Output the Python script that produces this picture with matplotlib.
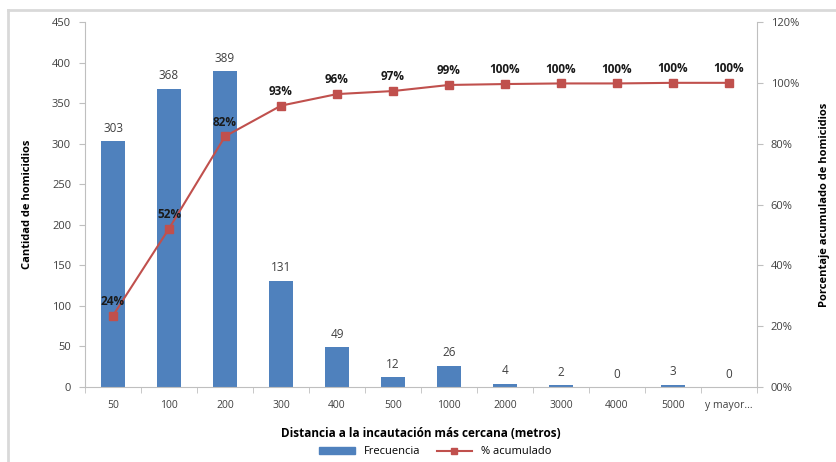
import numpy as np
import matplotlib
matplotlib.use('Agg')
import matplotlib.pyplot as plt
from matplotlib.lines import Line2D
from matplotlib.patches import Patch

categorias = ['50', '100', '200', '300', '400', '500', '1000', '2000',
              '3000', '4000', '5000', 'y mayor...']
frecuencia = [303, 368, 389, 131, 49, 12, 26, 4, 2, 0, 3, 0]
acumulado = [23.5, 52.1, 82.4, 92.5, 96.3, 97.3, 99.3, 99.6, 99.8, 99.8, 100.0, 100.0]
etiquetas_acum = ['24%', '52%', '82%', '93%', '96%', '97%', '99%', '100%',
                  '100%', '100%', '100%', '100%']
ticks_pct = [0, 20, 40, 60, 80, 100, 120]
ticks_pct_lbl = ['00%', '20%', '40%', '60%', '80%', '100%', '120%']

azul = '#4F81BD'
rojo = '#C0504D'
plt.rcParams['font.family'] = ['Open Sans', 'DejaVu Sans']

fig = plt.figure(figsize=(8.37, 4.62), dpi=100)
# marco exterior (solo arriba e izquierda visibles)
fig.lines.append(Line2D([0.010, 0.010], [0.0, 0.978], transform=fig.transFigure,
                        color='#d9d9d9', linewidth=2))
fig.lines.append(Line2D([0.010, 1.0], [0.978, 0.978], transform=fig.transFigure,
                        color='#d9d9d9', linewidth=2))

ax = fig.add_axes([0.1016, 0.1623, 0.8028, 0.7901])
x = np.arange(len(categorias))

ax.bar(x, frecuencia, width=0.42, color=azul, zorder=2)
for xi, v in zip(x, frecuencia):
    ax.text(xi, v + 8, str(v), ha='center', va='bottom', fontsize=8.5, color='#404040')

ax.set_ylim(0, 450)
ax.set_xlim(-0.5, len(categorias) - 0.5)
ax.set_yticks(range(0, 451, 50))
ax.set_xticks(x)
ax.set_xticklabels(categorias)
ax.set_xticks(np.arange(-0.5, len(categorias), 1), minor=True)
ax.tick_params(axis='x', which='major', length=0, pad=9, labelsize=7.5, labelcolor='#404040')
ax.tick_params(axis='x', which='minor', length=4, color='#bfbfbf')
ax.tick_params(axis='y', length=4, color='#bfbfbf', labelsize=8, labelcolor='#404040', pad=6)
for s in ['top', 'right']:
    ax.spines[s].set_visible(False)
for s in ['left', 'bottom']:
    ax.spines[s].set_color('#bfbfbf')
ax.set_ylabel('Cantidad de homicidios', fontsize=8, fontweight='bold', labelpad=14)
ax.set_xlabel('Distancia a la incautación más cercana (metros)', fontsize=8.5,
              fontweight='bold', labelpad=12)

ax2 = ax.twinx()
ax2.plot(x, acumulado, color=rojo, marker='s', markersize=6, linewidth=1.5, zorder=3)
for xi, v, lbl in zip(x, acumulado, etiquetas_acum):
    ax2.text(xi, v + 2.5, lbl, ha='center', va='bottom', fontsize=8.5,
             fontweight='bold', color='#1a1a1a')
ax2.set_ylim(0, 120)
ax2.set_yticks(ticks_pct)
ax2.set_yticklabels(ticks_pct_lbl)
ax2.tick_params(axis='y', length=4, color='#bfbfbf', labelsize=8, labelcolor='#404040', pad=6)
for s in ['top', 'left', 'bottom']:
    ax2.spines[s].set_visible(False)
ax2.spines['right'].set_color('#bfbfbf')
ax2.set_ylabel('Porcentaje acumulado de homicidios', fontsize=8, fontweight='bold',
               rotation=90, labelpad=14)

handles = [Patch(color=azul, label='Frecuencia'),
           Line2D([0], [0], color=rojo, marker='s', markersize=5, linewidth=1.5,
                  label='% acumulado')]
fig.legend(handles=handles, loc='center', bbox_to_anchor=(0.52, 0.022), ncol=2,
           frameon=False, fontsize=8, handlelength=3.2, columnspacing=1.5,
           handleheight=0.6)

fig.savefig('out.png', dpi=100)
